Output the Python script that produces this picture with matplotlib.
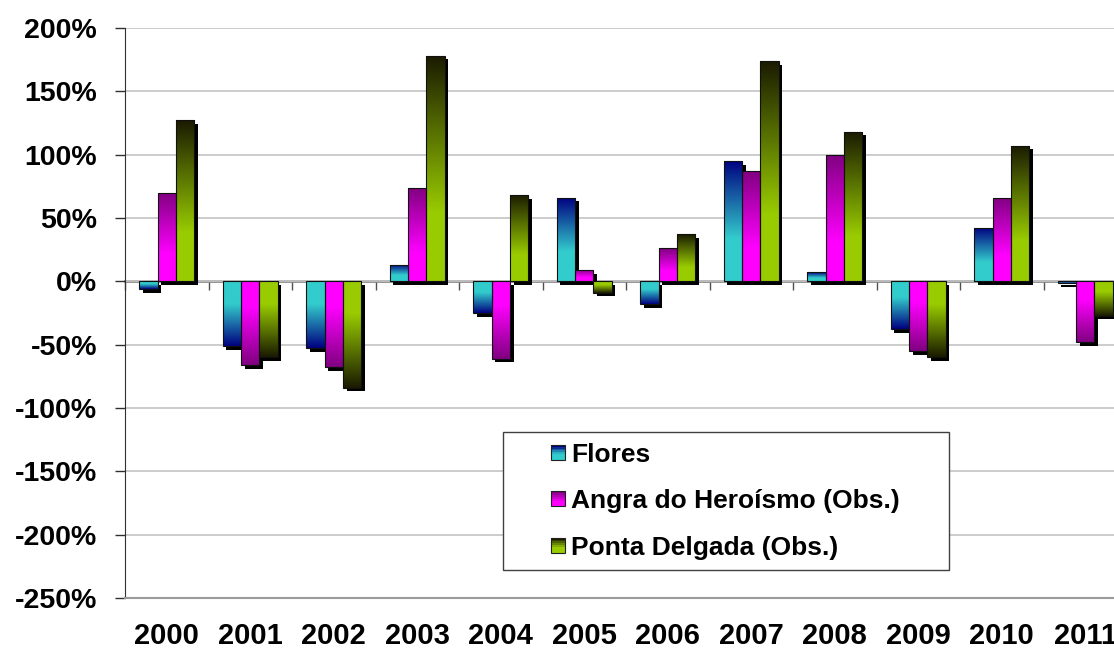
import numpy as np
import matplotlib
matplotlib.use('Agg')
import matplotlib.pyplot as plt
import matplotlib.patheffects as pe
from matplotlib.colors import LinearSegmentedColormap
from matplotlib.patches import Rectangle
from matplotlib.legend_handler import HandlerBase

# data (% change per year)
years = ['2000', '2001', '2002', '2003', '2004', '2005',
         '2006', '2007', '2008', '2009', '2010', '2011']
flores = [-6, -51, -53, 13, -25, 66, -18, 95, 7, -38, 42, -1.5]
angra = [70, -66, -68, 74, -61, 9, 26, 87, 100, -55, 66, -48]
ponta = [127, -60, -84, 178, 68, -9, 37, 174, 118, -60, 107, -27]
series_names = ['Flores', 'Angra do Heroísmo (Obs.)', 'Ponta Delgada (Obs.)']
y_ticks = list(range(-250, 201, 50))

# gradients: light at the base of the bar, dark at its tip
cmaps = [
    LinearSegmentedColormap.from_list('flores', [(0, '#33CCCC'), (0.35, '#33CCCC'), (1, '#000080')]),
    LinearSegmentedColormap.from_list('angra', [(0, '#FF00FF'), (0.3, '#FF00FF'), (1, '#800080')]),
    LinearSegmentedColormap.from_list('ponta', [(0, '#99CC00'), (0.3, '#99CC00'), (1, '#1A1A00')]),
]


class GradientHandler(HandlerBase):
    def __init__(self, cmap):
        super().__init__()
        self.cmap = cmap

    def create_artists(self, legend, orig_handle, xdescent, ydescent,
                       width, height, fontsize, trans):
        n = 8
        arts = []
        for i in range(n):
            arts.append(Rectangle((-xdescent, -ydescent + i * height / n), width, height / n,
                                  facecolor=self.cmap(i / (n - 1)), edgecolor='none',
                                  transform=trans))
        arts.append(Rectangle((-xdescent, -ydescent), width, height, fill=False,
                              edgecolor='#202020', linewidth=0.8, transform=trans))
        return arts


plt.rcParams['font.family'] = ['Liberation Sans', 'DejaVu Sans']
plt.rcParams['font.weight'] = 'bold'

fig = plt.figure(figsize=(11.14, 6.55), dpi=100)
ax = fig.add_axes([125 / 1114, 57 / 655, 1002 / 1114, 570 / 655])

x = np.arange(len(years))
w = 0.22
grad = np.linspace(0, 1, 256).reshape(-1, 1)

for k, vals in enumerate([flores, angra, ponta]):
    off = (k - 1) * w
    bars = ax.bar(x + off, vals, width=w, color='white', edgecolor='none', zorder=3,
                  path_effects=[pe.withSimplePatchShadow(offset=(2.6, -2.6),
                                                         shadow_rgbFace='black', alpha=1.0)])
    for b, v in zip(bars, vals):
        x0 = b.get_x()
        im = ax.imshow(grad, cmap=cmaps[k], origin='lower', aspect='auto',
                       extent=(x0, x0 + w, 0, v), zorder=4, interpolation='bilinear')
        im.set_clip_path(b)
    ax.bar(x + off, vals, width=w, fill=False, edgecolor='#101010', linewidth=0.8, zorder=5)

ax.set_xlim(-0.5, len(years) - 0.5)
ax.set_ylim(-250, 200)
ax.set_yticks(y_ticks)
ax.set_yticklabels([f'{t}%' for t in y_ticks], fontsize=20.5)
ax.yaxis.grid(True, color='#c4c4c4', linewidth=1.2)
ax.set_axisbelow(True)

ax.set_xticks(x)
ax.set_xticklabels(years, fontsize=21)
ax.tick_params(axis='x', length=0, pad=17)
ax.tick_params(axis='y', length=7, width=1, color='#303030', pad=13)

ax.spines['top'].set_visible(False)
ax.spines['right'].set_visible(False)
ax.spines['left'].set_color('#303030')
ax.spines['bottom'].set_color('#9a9a9a')
ax.spines['bottom'].set_linewidth(1.5)

# zero line with category separators
sec = ax.secondary_xaxis(0, transform=ax.transData)
sec.set_xticks(np.arange(len(years) + 1) - 0.5)
sec.set_xticklabels([])
sec.tick_params(axis='x', direction='out', length=6.5, width=1, color='#505050')
for s in sec.spines.values():
    s.set_color('#8a8a8a')
    s.set_linewidth(2)

# legend
box = (0.377, 0.049, 0.445, 0.242)
ax.add_patch(Rectangle(box[:2], box[2], box[3], transform=ax.transAxes,
                       facecolor='white', edgecolor='#404040', linewidth=1, zorder=6))
proxies = [Rectangle((0, 0), 1, 1) for _ in series_names]
leg = ax.legend(proxies, series_names, loc='center',
                bbox_to_anchor=(box[0] + box[2] / 2, box[1] + box[3] / 2),
                frameon=False, fontsize=19, handlelength=0.5, handleheight=0.5,
                handletextpad=0.25, labelspacing=0.85,
                handler_map={p: GradientHandler(c) for p, c in zip(proxies, cmaps)})
leg.set_zorder(7)

fig.savefig('out.png', dpi=100)
